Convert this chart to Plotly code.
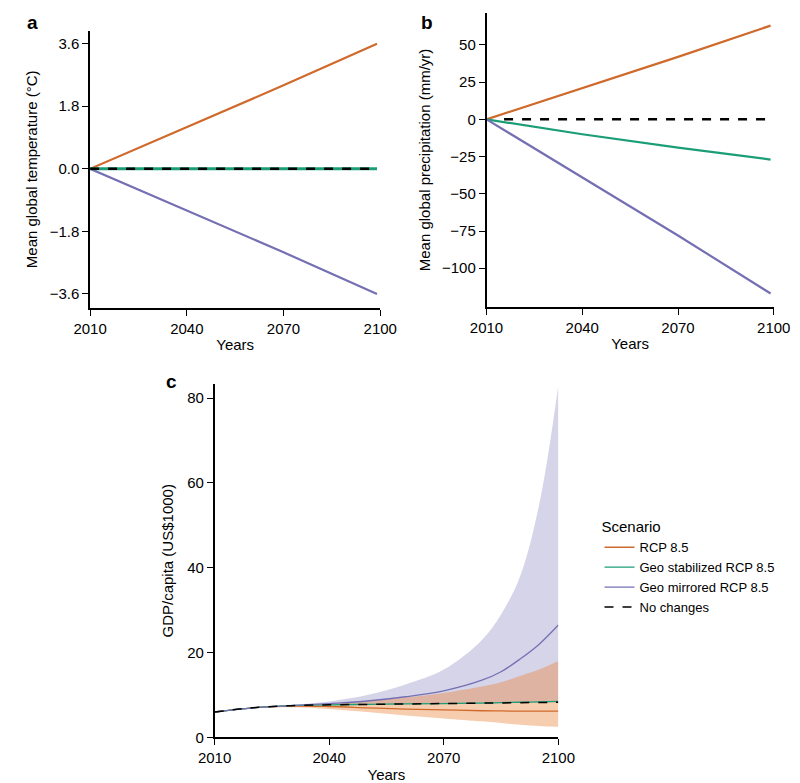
import plotly.graph_objects as go

W, H = 800, 783

# panel a / b: scenario endpoints (linear trends)
years_ab = [2010, 2040, 2070, 2099]
temp_rcp = [0, 1.2, 2.4, 3.6]
temp_stab = [0, 0, 0, 0]
temp_mirr = [0, -1.2, -2.4, -3.6]
prec_rcp = [0, 21, 42, 63]
prec_stab = [0, -10, -19, -27]
prec_mirr = [0, -39, -78, -117]
nochange_years = [2015.5, 2099]
nochange_vals = [0, 0]

# panel c: GDP per capita
years_c = [2010, 2020, 2030, 2040, 2050, 2060, 2070, 2080, 2085, 2090, 2095, 2100]
gdp_none = [6.0, 7.0, 7.5, 7.7, 7.8, 7.9, 8.0, 8.1, 8.15, 8.2, 8.25, 8.3]
gdp_stab = [6.0, 7.0, 7.5, 7.7, 7.8, 7.9, 8.0, 8.1, 8.2, 8.3, 8.4, 8.5]
gdp_rcp = [6.0, 7.0, 7.4, 7.3, 7.0, 6.7, 6.5, 6.3, 6.25, 6.2, 6.2, 6.2]
gdp_rcp_lo = [6.0, 6.9, 7.1, 6.7, 6.0, 5.2, 4.5, 3.8, 3.4, 3.0, 2.7, 2.5]
gdp_rcp_hi = [6.0, 7.1, 7.6, 7.9, 8.5, 9.4, 10.5, 12.0, 13.0, 14.5, 16.0, 18.0]
gdp_mirr = [6.0, 7.0, 7.5, 8.0, 8.6, 9.6, 11.0, 13.5, 15.5, 18.5, 22.0, 26.5]
gdp_mirr_lo = [6.0, 7.0, 7.5, 7.7, 7.8, 7.9, 8.0, 8.1, 8.15, 8.2, 8.25, 8.3]
gdp_mirr_hi = [6.0, 7.1, 7.7, 8.5, 10.0, 12.5, 16.0, 23.0, 29.0, 38.0, 55.0, 83.0]

ORANGE = "#cf6a2c"
GREEN = "#1b9e77"
PURPLE = "#7570b3"
FONT = "Liberation Sans"

fig = go.Figure()

def line(x, y, color, xa, ya, name=None, dash="solid", width=2.2, legend=False, shape="linear"):
    fig.add_trace(go.Scatter(x=x, y=y, mode="lines", xaxis=xa, yaxis=ya,
                             line=dict(color=color, width=width, dash=dash, shape=shape),
                             name=name, showlegend=legend, hoverinfo="skip"))

# panel a
line(years_ab, temp_rcp, ORANGE, "x", "y")
line(years_ab, temp_mirr, PURPLE, "x", "y")
line(years_ab, temp_stab, GREEN, "x", "y", width=3)
line(years_ab[:1] + nochange_years[1:], nochange_vals, "black", "x", "y", dash="dash", width=2.5)

# panel b
line(years_ab, prec_rcp, ORANGE, "x2", "y2")
line(years_ab, prec_stab, GREEN, "x2", "y2")
line(years_ab, prec_mirr, PURPLE, "x2", "y2")
line(nochange_years, nochange_vals, "black", "x2", "y2", dash="dash", width=2.5)

# panel c bands
def band(lo, hi, color):
    fig.add_trace(go.Scatter(x=years_c, y=lo, mode="lines", line=dict(width=0, shape="spline"),
                             xaxis="x3", yaxis="y3", showlegend=False, hoverinfo="skip"))
    fig.add_trace(go.Scatter(x=years_c, y=hi, mode="lines", line=dict(width=0, shape="spline"),
                             fill="tonexty", fillcolor=color,
                             xaxis="x3", yaxis="y3", showlegend=False, hoverinfo="skip"))

band(gdp_mirr_lo, gdp_mirr_hi, "rgba(117,112,179,0.3)")
band(gdp_rcp_lo, gdp_rcp_hi, "rgba(235,130,55,0.4)")
line(years_c, gdp_rcp, ORANGE, "x3", "y3", "RCP 8.5", width=1.3, legend=True, shape="spline")
line(years_c, gdp_stab, GREEN, "x3", "y3", "Geo stabilized RCP 8.5", width=1.3, legend=True, shape="spline")
line(years_c, gdp_mirr, PURPLE, "x3", "y3", "Geo mirrored RCP 8.5", width=1.3, legend=True, shape="spline")
line(years_c, gdp_none, "black", "x3", "y3", "No changes", dash="dash", width=1.5, legend=True, shape="spline")

def px_x(a, b):
    return [a / W, b / W]

def px_y(top, bottom):
    return [1 - bottom / H, 1 - top / H]

ax = dict(showgrid=False, zeroline=False, showline=True, linecolor="black", linewidth=1.5,
          ticks="outside", ticklen=6, tickcolor="black",
          tickfont=dict(size=15, color="black", family=FONT))
xcommon = dict(ax, tickvals=[2010, 2040, 2070, 2100], range=[2010, 2100],
               title=dict(text="Years", font=dict(size=15, family=FONT, color="black"), standoff=4))

fig.update_layout(
    width=W, height=H, margin=dict(l=0, r=0, t=0, b=0),
    plot_bgcolor="white", paper_bgcolor="white",
    font=dict(family=FONT, color="black"),
    xaxis=dict(xcommon, domain=px_x(68, 371), anchor="y"),
    yaxis=dict(ax, domain=px_y(23, 303), range=[-4.0, 3.97], tickvals=[-3.6, -1.8, 0, 1.8, 3.6],
               tickformat=".1f", anchor="x",
               title=dict(text="Mean global temperature (°C)", font=dict(size=15), standoff=8)),
    xaxis2=dict(xcommon, domain=px_x(482, 782), anchor="y2"),
    yaxis2=dict(ax, domain=px_y(5, 302), range=[-126, 71.5], tickvals=[-100, -75, -50, -25, 0, 25, 50],
                anchor="x2",
                title=dict(text="Mean global precipitation (mm/yr)", font=dict(size=15), standoff=8)),
    xaxis3=dict(xcommon, domain=px_x(198, 557), anchor="y3"),
    yaxis3=dict(ax, domain=px_y(380, 737), range=[0, 83.3], tickvals=[0, 20, 40, 60, 80],
                anchor="x3",
                title=dict(text="GDP/capita (US$1000)", font=dict(size=15), standoff=10)),
    legend=dict(x=600 / W, y=1 - 510 / H, xanchor="left", yanchor="top", traceorder="normal",
                title=dict(text="Scenario", font=dict(size=15)),
                font=dict(size=13, family=FONT), tracegroupgap=0, itemwidth=30),
    annotations=[
        dict(text="<b>a</b>", x=0, y=1 - 2 / H, xref="paper", yref="paper", xanchor="left",
             yanchor="top", showarrow=False, font=dict(size=19)),
        dict(text="<b>b</b>", x=412 / W, y=1 - 2 / H, xref="paper", yref="paper", xanchor="left",
             yanchor="top", showarrow=False, font=dict(size=19)),
        dict(text="<b>c</b>", x=145 / W, y=1 - 365 / H, xref="paper", yref="paper", xanchor="left",
             yanchor="top", showarrow=False, font=dict(size=19)),
    ],
)

fig.write_html("out.html")
